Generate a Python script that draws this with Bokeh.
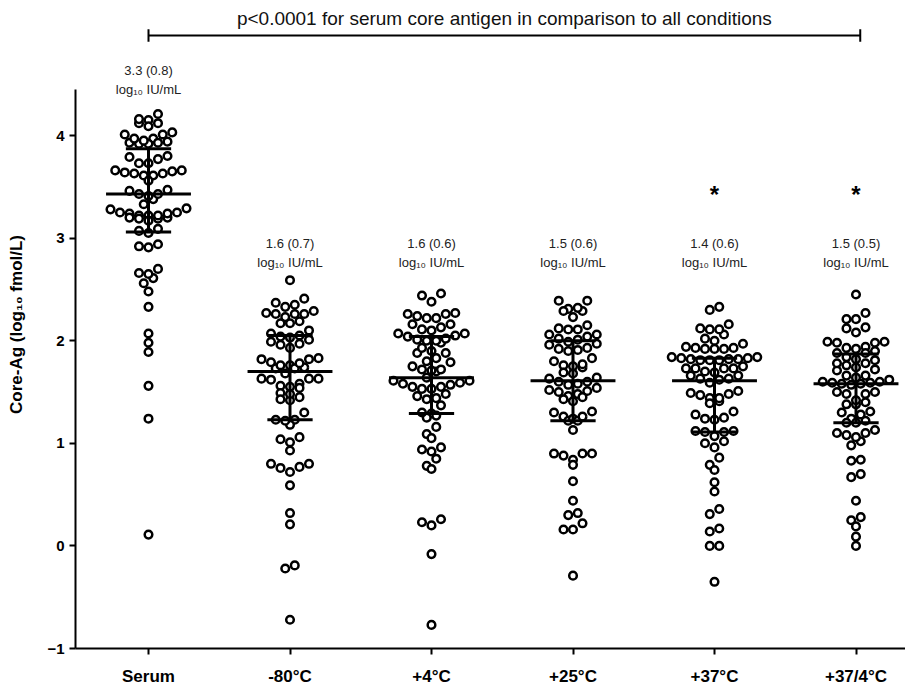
import numpy as np
from bokeh.plotting import figure
from bokeh.models import Range1d, FixedTicker
from bokeh.core.properties import value
from bokeh.embed import file_html
from bokeh.resources import INLINE

categories = ["Serum", "-80°C", "+4°C", "+25°C", "+37°C", "+37/4°C"]

serum = [4.21, 4.15, 4.12, 4.09, 4.12, 4.16, 4.03,
         4.01, 3.97, 3.94, 3.93, 3.92, 3.92, 3.93, 3.95, 3.97, 4.01,
         3.79, 3.77, 3.80, 3.73, 3.73,
         3.66, 3.65, 3.63, 3.61, 3.61, 3.63, 3.64, 3.66, 3.56,
         3.46, 3.43, 3.47, 3.38, 3.41, 3.43, 3.33,
         3.29, 3.25, 3.24, 3.22, 3.20, 3.20, 3.22, 3.24, 3.25, 3.28,
         3.19, 3.19, 3.22, 3.17, 3.07, 3.05, 3.09, 2.94, 2.91, 2.92,
         2.66, 2.61, 2.65, 2.70, 2.56, 2.48,
         2.33, 2.07, 1.98, 1.89, 1.56, 1.24, 0.11]
minus80 = [2.59, 2.37, 2.33, 2.35, 2.41,
           2.27, 2.26, 2.23, 2.19, 2.26, 2.26, 2.29, 2.17, 2.17, 2.07, 2.10,
           2.05, 2.03, 1.99, 1.96, 1.93, 1.97, 2.01, 2.04,
           1.82, 1.79, 1.76, 1.74, 1.73, 1.73, 1.76, 1.78, 1.82, 1.83,
           1.68, 1.63, 1.63, 1.62, 1.63, 1.55, 1.56, 1.58, 1.54,
           1.49, 1.45, 1.42, 1.43, 1.48, 1.30, 1.23, 1.23, 1.18, 1.22,
           1.01, 1.06, 1.04, 0.93, 0.80, 0.77, 0.72, 0.76, 0.80,
           0.59, 0.32, 0.21, -0.19, -0.22, -0.72]
plus4 = [2.46, 2.38, 2.44, 2.26, 2.26, 2.22, 2.22, 2.24, 2.27,
         2.16, 2.13, 2.11, 2.16, 2.10,
         2.07, 2.04, 2.01, 1.98, 2.02, 2.00, 2.00, 2.05, 2.07,
         1.90, 1.88, 1.93, 1.88, 1.79, 1.80, 1.83, 1.75,
         1.72, 1.70, 1.71, 1.72,
         1.64, 1.61, 1.58, 1.55, 1.53, 1.53, 1.55, 1.57, 1.59, 1.61,
         1.46, 1.43, 1.48, 1.44, 1.37, 1.29, 1.25, 1.27, 1.30,
         1.16, 1.09, 1.05, 0.96, 0.92, 0.94, 0.85, 0.78, 0.75,
         0.26, 0.20, 0.23, -0.08, -0.77]
plus25 = [2.39, 2.39, 2.31, 2.29, 2.23, 2.29, 2.32,
          2.15, 2.11, 2.12, 2.11, 2.06, 2.04, 2.06,
          2.02, 1.97, 1.93, 1.91, 1.90, 1.92, 1.96, 1.99, 2.01,
          1.80, 1.76, 1.74, 1.75, 1.77, 1.83,
          1.69, 1.64, 1.60, 1.57, 1.58, 1.60, 1.63, 1.68,
          1.54, 1.51, 1.48, 1.46, 1.41, 1.43, 1.45, 1.50, 1.52,
          1.31, 1.26, 1.22, 1.24, 1.30, 1.22, 1.26, 1.13,
          0.90, 0.90, 0.84, 0.79, 0.88, 0.90,
          0.63, 0.44, 0.30, 0.32, 0.22, 0.16, 0.16, -0.29]
plus37 = [2.30, 2.33, 2.12, 2.11, 2.06, 2.11, 2.16,
          2.02, 1.97, 1.93, 1.92, 1.92, 1.92, 1.93, 1.94, 2.00,
          1.84, 1.82, 1.81, 1.81, 1.81, 1.82, 1.82, 1.83, 1.83, 1.84,
          1.73, 1.73, 1.73, 1.73, 1.75,
          1.69, 1.66, 1.63, 1.59, 1.62, 1.63, 1.66, 1.70,
          1.51, 1.48, 1.44, 1.41, 1.39, 1.44, 1.47, 1.49,
          1.31, 1.25, 1.23, 1.24, 1.28, 1.11, 1.12, 1.12, 1.07, 1.11,
          1.02, 0.96, 1.00, 0.86, 0.79, 0.74, 0.62, 0.53,
          0.36, 0.31, 0.14, 0.17, 0.00, 0.00, -0.35]
plus37_4 = [2.45, 2.21, 2.13, 2.21, 2.08, 2.27, 2.12,
            1.99, 1.98, 1.94, 1.92, 1.88, 1.88, 1.90, 1.93, 1.98, 1.99,
            1.84, 1.81, 1.78, 1.74, 1.71, 1.72, 1.76, 1.78, 1.82,
            1.66, 1.62, 1.60, 1.59, 1.58, 1.57, 1.58, 1.59, 1.60, 1.64, 1.66,
            1.50, 1.48, 1.48, 1.50, 1.38, 1.40, 1.42, 1.38,
            1.30, 1.28, 1.31, 1.24, 1.20, 1.20, 1.22,
            1.13, 1.10, 1.10, 1.08, 1.02, 0.98, 1.06,
            0.83, 0.84, 0.70, 0.67, 0.44, 0.25, 0.19, 0.28, 0.09, 0.00]

medians = [3.43, 1.70, 1.64, 1.61, 1.61, 1.58]
q1 = [3.06, 1.23, 1.29, 1.22, 1.11, 1.20]
q3 = [3.87, 2.05, 2.04, 2.00, 1.83, 1.87]

iu_labels = ["3.3 (0.8)", "1.6 (0.7)", "1.6 (0.6)", "1.5 (0.6)", "1.4 (0.6)", "1.5 (0.5)"]
star_groups = ["+37°C", "+37/4°C"]
p_text = "p<0.0001 for serum core antigen in comparison to all conditions"

series = [serum, minus80, plus4, plus25, plus37, plus37_4]

FONT = "Liberation Sans"
FRAME_L, FRAME_R, FRAME_T, FRAME_B = 75, 905, 0, 648
SY = 102.6
SX = 141.5
X0 = -(148 - FRAME_L) / SX
X1 = X0 + (FRAME_R - FRAME_L) / SX
Y0 = -1.0
Y1 = Y0 + (FRAME_B - FRAME_T) / SY


def row_layout(vals, h=8.5, d=9.5):
    """Prism-like scatter: points are grouped into horizontal rows and
    spread symmetrically, lowest values of a row in the middle."""
    vals = np.asarray(vals, dtype=float)
    order = np.argsort(-vals, kind="stable")
    rows, cur, top = [], [], None
    for i in order:
        y = vals[i] * SY
        if cur and top - y > h:
            rows.append(cur)
            cur = []
        if not cur:
            top = y
        cur.append(i)
    if cur:
        rows.append(cur)
    offs = np.zeros(len(vals))
    for row in rows:
        n = len(row)
        pos = [(k - (n - 1) / 2.0) * d for k in range(n)]
        pos.sort(key=lambda c: (round(abs(c), 6), c))
        members = sorted(row, key=lambda j: vals[j])
        for j, c in zip(members, pos):
            offs[j] = c / SX
    return offs


p = figure(width=905, height=688, output_backend="svg", toolbar_location=None,
           x_range=Range1d(X0, X1), y_range=Range1d(Y0, Y1),
           min_border_left=FRAME_L, min_border_right=0, min_border_top=FRAME_T,
           min_border_bottom=688 - FRAME_B)
p.xgrid.visible = False
p.ygrid.visible = False
p.outline_line_color = None
p.background_fill_color = "white"

xs, ys = [], []
for i, vals in enumerate(series):
    offs = row_layout(vals)
    xs += list(i + offs)
    ys += list(vals)
p.scatter(x=xs, y=ys, size=7.6, marker="circle", fill_color="white",
          line_color="black", line_width=2.5)

# median and interquartile bars
idx = np.arange(len(categories))
p.segment(x0=idx - 0.30, x1=idx + 0.30, y0=medians, y1=medians, line_color="black", line_width=3)
p.segment(x0=idx - 0.16, x1=idx + 0.16, y0=q1, y1=q1, line_color="black", line_width=3)
p.segment(x0=idx - 0.16, x1=idx + 0.16, y0=q3, y1=q3, line_color="black", line_width=3)
p.segment(x0=idx, x1=idx, y0=q1, y1=q3, line_color="black", line_width=3)


def px2y(py):
    return (FRAME_B - py) / SY - 1.0


ann_y1 = [px2y(70)] + [px2y(243)] * 5
ann_y2 = [px2y(89)] + [px2y(262)] * 5
p.text(x=list(idx), y=ann_y1, text=iu_labels, text_align="center", text_baseline="middle",
       text_font=value(FONT), text_font_size="13px", text_color="#222222")
p.text(x=list(idx), y=ann_y2, text=["log₁₀ IU/mL"] * 6, text_align="center",
       text_baseline="middle", text_font=value(FONT), text_font_size="13px",
       text_color="#222222")
star_x = [categories.index(g) for g in star_groups]
p.text(x=star_x, y=[px2y(194)] * len(star_x), text=["*"] * len(star_x), text_align="center",
       text_baseline="middle", text_font=value(FONT), text_font_size="24px",
       text_font_style="bold", text_color="black")

# top bracket
yb = px2y(35)
p.segment(x0=[0], x1=[5.03], y0=[yb], y1=[yb], line_color="black", line_width=2)
p.segment(x0=[0, 5.03], x1=[0, 5.03], y0=[yb - 0.06] * 2, y1=[yb + 0.06] * 2,
          line_color="black", line_width=2)
p.text(x=[2.515], y=[px2y(18)], text=[p_text], text_align="center", text_baseline="middle",
       text_font=value(FONT), text_font_size="19px", text_color="#111111")

# axes
p.yaxis.ticker = FixedTicker(ticks=[-1, 0, 1, 2, 3, 4])
p.yaxis.bounds = (-1, 4.45)
p.xaxis.ticker = FixedTicker(ticks=list(range(len(categories))))
p.xaxis.major_label_overrides = {i: c for i, c in enumerate(categories)}
for ax in (p.xaxis, p.yaxis):
    ax.axis_line_width = 2
    ax.axis_line_color = "black"
    ax.major_tick_line_width = 2
    ax.major_tick_line_color = "black"
    ax.major_tick_in = 0
    ax.major_tick_out = 6
    ax.minor_tick_line_color = None
    ax.major_label_text_font = FONT
    ax.major_label_text_font_style = "bold"
    ax.major_label_text_color = "black"
p.yaxis.major_label_text_font_size = "15px"
p.xaxis.major_label_text_font_size = "17px"
p.yaxis.major_label_standoff = 5
p.xaxis.major_label_standoff = 12
p.yaxis.axis_label = "Core-Ag (log₁₀ fmol/L)"
p.yaxis.axis_label_text_font = FONT
p.yaxis.axis_label_text_font_style = "bold"
p.yaxis.axis_label_text_font_size = "17px"
p.yaxis.axis_label_text_color = "black"
p.yaxis.axis_label_standoff = 18

open("out.html", "w").write(file_html(p, INLINE))
